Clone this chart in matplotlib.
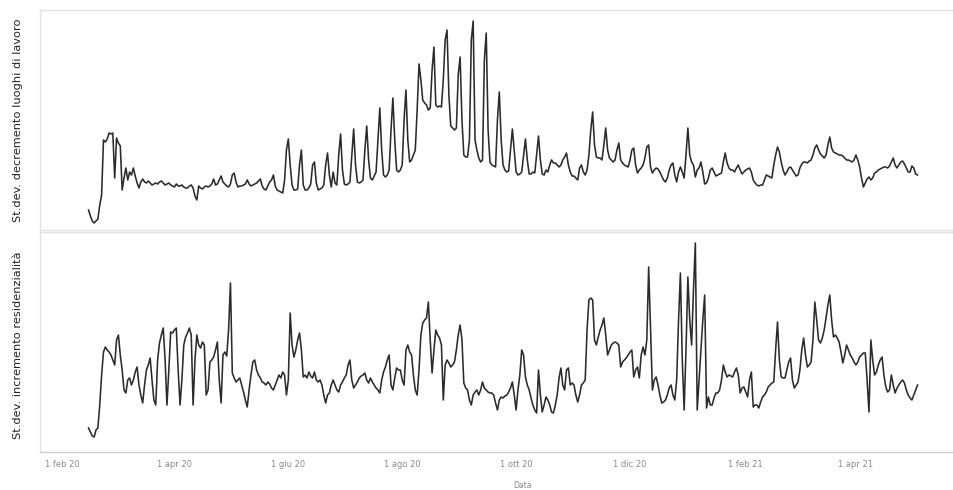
import numpy as np
import pandas as pd
import matplotlib
matplotlib.use('Agg')
import matplotlib.pyplot as plt
import matplotlib.dates as mdates

# daily values from 15 feb 2020 (arbitrary units)
start = '2020-02-15'

sd_lavoro = [20, 14, 9, 7, 9, 11, 25, 35, 90, 88, 91, 97, 96, 97, 52, 92, 87, 84, 40, 52, 62, 50, 58,
             55, 62, 54, 47, 42, 48, 51, 48, 47, 49, 47, 45, 46, 47, 46, 48, 49, 47, 45, 46, 47, 45, 44, 43,
             46, 44, 44, 45, 43, 42, 42, 44, 45, 42, 34, 30, 44, 42, 41, 43, 44, 43, 44, 46, 51, 45, 46, 50,
             54, 48, 46, 44, 43, 46, 55, 57, 48, 43, 44, 44, 45, 46, 50, 46, 44, 45, 46, 47, 49, 51, 44, 41,
             40, 44, 48, 50, 55, 44, 40, 39, 38, 37, 50, 80, 91, 65, 45, 40, 40, 41, 65, 80, 45, 40, 40, 42,
             46, 65, 68, 47, 40, 41, 42, 45, 65, 77, 55, 43, 58, 47, 45, 75, 96, 60, 46, 45, 46, 48, 75, 101,
             65, 48, 47, 48, 50, 80, 104, 70, 52, 50, 54, 58, 90, 122, 80, 55, 53, 55, 60, 100, 132, 90, 60,
             58, 60, 65, 110, 140, 90, 68, 70, 75, 80, 120, 166, 150, 130, 127, 125, 120, 122, 160, 183, 125,
             123, 124, 123, 150, 190, 200, 135, 104, 102, 100, 102, 155, 173, 110, 75, 73, 73, 90, 190, 209,
             90, 80, 72, 68, 70, 170, 197, 100, 68, 65, 64, 63, 110, 138, 90, 65, 60, 58, 59, 80, 101, 80, 58,
             55, 56, 58, 75, 91, 70, 56, 56, 58, 57, 75, 94, 70, 56, 55, 60, 58, 65, 70, 67, 67, 65, 63, 65,
             70, 73, 77, 65, 58, 54, 54, 52, 50, 62, 65, 58, 55, 60, 75, 100, 118, 85, 73, 72, 72, 70, 85,
             102, 80, 72, 70, 68, 70, 80, 87, 70, 67, 65, 64, 63, 70, 80, 82, 65, 57, 60, 62, 65, 72, 83, 85,
             63, 57, 60, 62, 61, 58, 54, 50, 48, 52, 60, 65, 67, 55, 48, 58, 63, 58, 52, 75, 102, 75, 68, 65,
             53, 60, 62, 68, 58, 46, 47, 52, 60, 62, 58, 54, 55, 56, 57, 68, 77, 67, 62, 60, 60, 58, 62, 65,
             60, 56, 58, 60, 61, 62, 58, 50, 47, 45, 44, 45, 45, 50, 55, 54, 53, 52, 65, 75, 83, 78, 68, 60,
             55, 58, 62, 63, 60, 57, 54, 55, 62, 66, 68, 68, 67, 69, 70, 75, 82, 85, 80, 76, 74, 72, 75, 85,
             93, 82, 78, 77, 76, 75, 75, 74, 72, 70, 70, 69, 68, 70, 75, 70, 63, 52, 43, 47, 51, 53, 50, 52,
             57, 58, 60, 61, 62, 63, 63, 62, 64, 68, 72, 65, 62, 65, 68, 69, 66, 62, 58, 58, 64, 62, 56, 55]

sd_residenza = [24, 20, 16, 15, 22, 24, 47, 77, 100, 105, 102, 100, 97, 92, 87, 112, 117, 97, 82, 62, 59,
                72, 74, 67, 72, 80, 85, 67, 57, 49, 67, 82, 87, 94, 72, 52, 47, 92, 109, 117, 124, 92, 47,
                82, 120, 119, 122, 124, 82, 47, 72, 107, 115, 119, 124, 117, 47, 92, 117, 107, 104, 110, 107,
                57, 62, 90, 92, 95, 102, 110, 72, 49, 97, 100, 96, 122, 169, 79, 74, 70, 72, 74, 67, 60, 52,
                45, 62, 77, 90, 92, 82, 77, 74, 70, 69, 67, 70, 68, 64, 62, 67, 72, 77, 74, 80, 77, 57, 72,
                139, 107, 95, 102, 112, 119, 102, 75, 77, 74, 80, 76, 74, 80, 72, 70, 72, 67, 57, 49, 57, 59,
                67, 72, 67, 62, 60, 67, 70, 74, 77, 87, 92, 72, 64, 67, 70, 74, 76, 77, 79, 72, 69, 74, 70, 67,
                64, 62, 59, 72, 80, 85, 92, 97, 67, 62, 74, 84, 82, 82, 72, 67, 102, 107, 100, 97, 77, 62, 57,
                82, 117, 129, 132, 134, 150, 112, 79, 102, 122, 117, 114, 107, 52, 87, 92, 89, 85, 87, 90, 102,
                117, 127, 112, 69, 64, 62, 52, 47, 57, 60, 62, 57, 62, 70, 64, 62, 60, 59, 59, 57, 49, 42, 52,
                55, 54, 56, 57, 60, 64, 70, 57, 42, 62, 77, 102, 97, 75, 67, 62, 54, 47, 42, 39, 82, 57, 40, 47,
                55, 52, 47, 40, 39, 47, 57, 74, 84, 67, 62, 82, 84, 67, 69, 67, 57, 50, 57, 67, 69, 72, 122,
                152, 154, 152, 112, 107, 115, 122, 127, 134, 117, 97, 102, 107, 109, 110, 109, 107, 85, 90, 92,
                94, 97, 100, 102, 75, 82, 85, 74, 97, 105, 97, 112, 185, 122, 62, 72, 75, 67, 57, 49, 50, 52,
                57, 64, 67, 57, 52, 72, 132, 179, 92, 42, 102, 175, 132, 107, 162, 209, 42, 72, 102, 132, 157,
                44, 55, 47, 47, 54, 59, 59, 62, 72, 87, 80, 75, 77, 76, 75, 80, 84, 77, 59, 64, 65, 60, 55, 72,
                80, 45, 47, 47, 44, 50, 55, 57, 60, 65, 67, 69, 70, 102, 130, 92, 75, 74, 74, 82, 90, 94, 72,
                64, 67, 70, 82, 102, 114, 97, 85, 87, 90, 112, 150, 132, 112, 109, 114, 122, 134, 147, 157, 132,
                115, 117, 114, 110, 100, 89, 97, 107, 102, 97, 94, 90, 87, 90, 95, 97, 99, 99, 72, 40, 112, 92,
                77, 80, 87, 92, 95, 77, 65, 60, 62, 77, 67, 59, 64, 67, 70, 72, 69, 62, 57, 54, 52, 57, 62, 67]

tick_dates = ['2020-02-01', '2020-04-01', '2020-06-01', '2020-08-01', '2020-10-01',
              '2020-12-01', '2021-02-01', '2021-04-01']
tick_labels = ['1 feb 20', '1 apr 20', '1 giu 20', '1 ago 20', '1 ott 20',
               '1 dic 20', '1 feb 21', '1 apr 21']
ylabels = ['St.dev. decremento luoghi di lavoro', 'St.dev. incremento residenzialità']

fig = plt.figure(figsize=(9.54, 4.9), dpi=100)
ax1 = fig.add_axes([40/954, 1-230/490, 913/954, 220/490])
ax2 = fig.add_axes([40/954, 1-452/490, 913/954, 220/490])

x0 = pd.Timestamp('2020-01-20')
x1 = pd.Timestamp('2021-05-23')

for ax, serie in [(ax1, sd_lavoro), (ax2, sd_residenza)]:
    dates = pd.date_range(start, periods=len(serie), freq='D')
    ax.plot(dates, serie, color='#2b2b2b', lw=1.15)
    ax.set_xlim(x0, x1)
    ax.set_ylim(0, 220)
    ax.set_yticks([])
    for s in ax.spines.values():
        s.set_color('#e2e2e2')
        s.set_linewidth(1.0)
    ax.spines['right'].set_visible(False)

ax1.set_xticks([])
ax2.set_xticks(pd.to_datetime(tick_dates))
ax2.set_xticklabels(tick_labels, fontsize=6, color='#8a8a8a')
ax2.tick_params(axis='x', length=0, pad=6)
ax2.spines['bottom'].set_color('#cfcfcf')

fig.text(18/954, 1-120/490, ylabels[0], rotation=90, va='center', ha='center',
         fontsize=8.2, color='#222222')
fig.text(18/954, 1-345/490, ylabels[1], rotation=90, va='center', ha='center',
         fontsize=8.2, color='#222222')
fig.text(523/954, 1-485/490, 'Data', fontsize=5.5, color='#8a8a8a', ha='center', va='center')

fig.savefig('out.png', dpi=100)
